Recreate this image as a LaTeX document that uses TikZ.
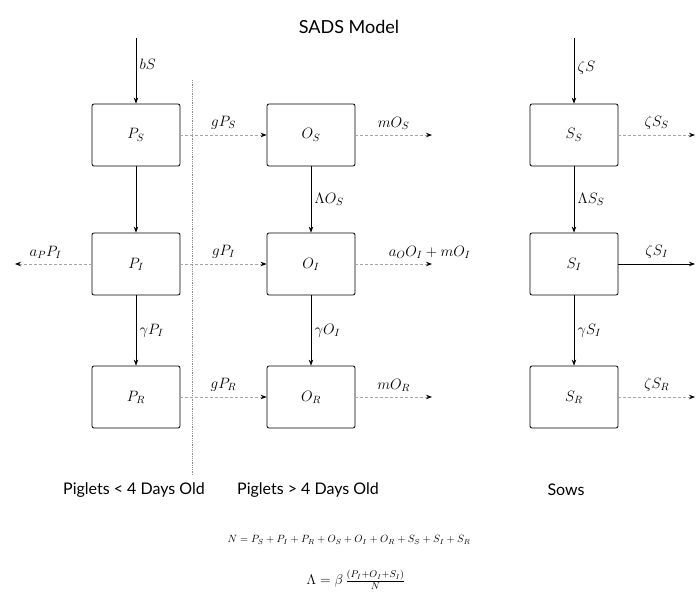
\RequirePackage{fix-cm}
\documentclass[tikz,border=0pt]{standalone}
\usepackage{amsmath}
\usepackage{fontspec}
\setmainfont{Lato}
\usetikzlibrary{arrows.meta}

\tikzset{
  compartment/.style={draw, thick, rounded corners=2pt, minimum width=88pt,
    minimum height=62pt, font=\fontsize{15}{17}\selectfont},
  flow/.style={-{Stealth[length=6pt,width=4.5pt]}, thick},
  faintflow/.style={flow, draw=black!35, densely dashed,
    -{Stealth[length=6pt,width=4.5pt,black]}},
  rate/.style={font=\fontsize{15}{17}\selectfont},
  caption/.style={font=\fontsize{16}{19}\selectfont},
}

\begin{document}
\begin{tikzpicture}[x=1pt, y=-1pt]
    \useasboundingbox (0,0) rectangle (698,604);

    % Title.
    \node[font=\fontsize{18}{21}\selectfont] (title) at (349,27) {SADS Model};

    % Compartments: piglets < 4 days, piglets > 4 days, sows.
    \node[compartment] (PS) at (136,135) {$P_S$};
    \node[compartment] (PI) at (136,264) {$P_I$};
    \node[compartment] (PR) at (136,397) {$P_R$};
    \node[compartment] (OS) at (311,135) {$O_S$};
    \node[compartment] (OI) at (311,264) {$O_I$};
    \node[compartment] (OR) at (311,397) {$O_R$};
    \node[compartment] (SS) at (574,135) {$S_S$};
    \node[compartment] (SI) at (574,264) {$S_I$};
    \node[compartment] (SR) at (574,397) {$S_R$};

    % Free ends of in- and outflows.
    \coordinate (bSin) at (136,38);
    \coordinate (zSin) at (574,38);
    \coordinate (aPout) at (15,264);
    \coordinate (mOSout) at (432,135);
    \coordinate (mOIout) at (432,264);
    \coordinate (mORout) at (432,397);
    \coordinate (zSSout) at (695,135);
    \coordinate (zSIout) at (695,264);
    \coordinate (zSRout) at (695,397);

    % Divider between the piglet groups.
    \coordinate (divtop) at (192,80);
    \coordinate (divbot) at (192,475);
    \draw[densely dotted, black!45, thick] (divtop) -- (divbot);

    % Births.
    \draw[flow] (bSin) -- node[rate, right, pos=0.4] {$bS$} (PS);
    \draw[flow] (zSin) -- node[rate, right, pos=0.45] {$\zeta S$} (SS);

    % Infection and recovery.
    \draw[flow] (PS) -- (PI);
    \draw[flow] (PI) -- node[rate, right] {$\gamma P_I$} (PR);
    \draw[flow] (OS) -- node[rate, right] {$\Lambda O_S$} (OI);
    \draw[flow] (OI) -- node[rate, right] {$\gamma O_I$} (OR);
    \draw[flow] (SS) -- node[rate, right] {$\Lambda S_S$} (SI);
    \draw[flow] (SI) -- node[rate, right] {$\gamma S_I$} (SR);

    % Ageing.
    \draw[faintflow] (PS) -- node[rate, above, yshift=2pt] {$gP_S$} (OS);
    \draw[faintflow] (PI) -- node[rate, above, yshift=2pt] {$gP_I$} (OI);
    \draw[faintflow] (PR) -- node[rate, above, yshift=2pt] {$gP_R$} (OR);

    % Deaths and removals.
    \draw[faintflow] (PI) -- node[rate, above, yshift=2pt, pos=0.6] {$a_P P_I$} (aPout);
    \draw[faintflow] (OS) -- node[rate, above, yshift=2pt] {$mO_S$} (mOSout);
    \draw[faintflow] (OI) -- node[rate, above, yshift=2pt, xshift=36pt]
      {$a_O O_I + mO_I$} (mOIout);
    \draw[faintflow] (OR) -- node[rate, above, yshift=2pt] {$mO_R$} (mORout);
    \draw[faintflow] (SS) -- node[rate, above, yshift=2pt] {$\zeta S_S$} (zSSout);
    \draw[flow] (SI) -- node[rate, above, yshift=2pt] {$\zeta S_I$} (zSIout);
    \draw[faintflow] (SR) -- node[rate, above, yshift=2pt] {$\zeta S_R$} (zSRout);

    % Group captions.
    \node[caption] (capP) at (134,490) {Piglets < 4 Days Old};
    \node[caption] (capO) at (308,490) {Piglets > 4 Days Old};
    \node[caption] (capS) at (566,490) {Sows};

    % Totals and force of infection.
    \node[font=\fontsize{10.5}{12}\selectfont] (total) at (349,540)
      {$N = P_S + P_I + P_R + O_S + O_I + O_R + S_S + S_I + S_R$};
    \node[font=\fontsize{14}{16}\selectfont] (force) at (356,580)
      {$\Lambda = \beta\,\tfrac{(P_I + O_I + S_I)}{N}$};
\end{tikzpicture}
\end{document}
